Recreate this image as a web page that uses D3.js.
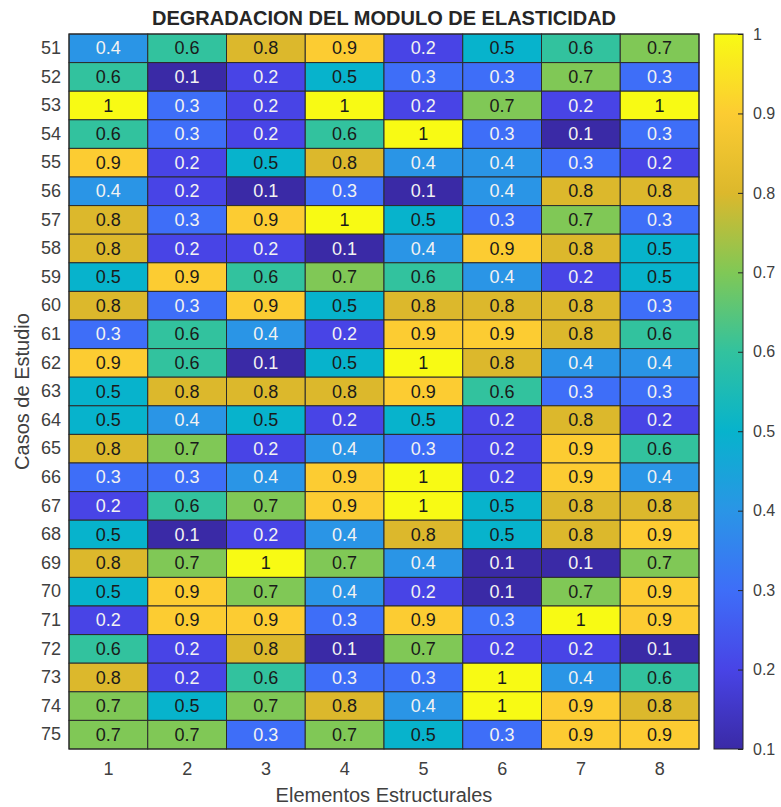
<!DOCTYPE html>
<html>
<head>
<meta charset="utf-8">
<script src="https://cdn.jsdelivr.net/npm/d3@7"></script>
<style>
  html, body { margin: 0; padding: 0; background: #ffffff; }
  svg { display: block; font-family: "Liberation Sans", Arial, sans-serif; }
</style>
</head>
<body>
<svg id="chart" width="781" height="807"></svg>
<script>
// ---- Data ----
const casos = ["51","52","53","54","55","56","57","58","59","60","61","62","63","64","65","66","67","68","69","70","71","72","73","74","75"];
const elementos = ["1","2","3","4","5","6","7","8"];
const valores = [
  [0.4,0.6,0.8,0.9,0.2,0.5,0.6,0.7],
  [0.6,0.1,0.2,0.5,0.3,0.3,0.7,0.3],
  [1,0.3,0.2,1,0.2,0.7,0.2,1],
  [0.6,0.3,0.2,0.6,1,0.3,0.1,0.3],
  [0.9,0.2,0.5,0.8,0.4,0.4,0.3,0.2],
  [0.4,0.2,0.1,0.3,0.1,0.4,0.8,0.8],
  [0.8,0.3,0.9,1,0.5,0.3,0.7,0.3],
  [0.8,0.2,0.2,0.1,0.4,0.9,0.8,0.5],
  [0.5,0.9,0.6,0.7,0.6,0.4,0.2,0.5],
  [0.8,0.3,0.9,0.5,0.8,0.8,0.8,0.3],
  [0.3,0.6,0.4,0.2,0.9,0.9,0.8,0.6],
  [0.9,0.6,0.1,0.5,1,0.8,0.4,0.4],
  [0.5,0.8,0.8,0.8,0.9,0.6,0.3,0.3],
  [0.5,0.4,0.5,0.2,0.5,0.2,0.8,0.2],
  [0.8,0.7,0.2,0.4,0.3,0.2,0.9,0.6],
  [0.3,0.3,0.4,0.9,1,0.2,0.9,0.4],
  [0.2,0.6,0.7,0.9,1,0.5,0.8,0.8],
  [0.5,0.1,0.2,0.4,0.8,0.5,0.8,0.9],
  [0.8,0.7,1,0.7,0.4,0.1,0.1,0.7],
  [0.5,0.9,0.7,0.4,0.2,0.1,0.7,0.9],
  [0.2,0.9,0.9,0.3,0.9,0.3,1,0.9],
  [0.6,0.2,0.8,0.1,0.7,0.2,0.2,0.1],
  [0.8,0.2,0.6,0.3,0.3,1,0.4,0.6],
  [0.7,0.5,0.7,0.8,0.4,1,0.9,0.8],
  [0.7,0.7,0.3,0.7,0.5,0.3,0.9,0.9]
];
const colorTicks = [0.1,0.2,0.3,0.4,0.5,0.6,0.7,0.8,0.9,1];
const paletteStops = ["#3a2aa6","#4844e6","#3e6ef8","#2a95e6","#07b3cc","#32c29e","#80c856","#dcb82c","#fccc32","#f8fa14"];

const titulo = "DEGRADACION DEL MODULO DE ELASTICIDAD";
const xLabel = "Elementos Estructurales";
const yLabel = "Casos de Estudio";

// ---- Layout ----
const svg = d3.select("#chart");
const plot = { left: 69, top: 34, right: 699, bottom: 749 };
const cb = { left: 714, right: 743 };
const textColor = "#404040";
const FONT = "Liberation Sans, Arial, sans-serif";

const x = d3.scaleBand().domain(elementos).range([plot.left, plot.right]).padding(0);
const y = d3.scaleBand().domain(casos).range([plot.top, plot.bottom]).padding(0);
const color = d3.scaleLinear().domain(colorTicks).range(paletteStops).interpolate(d3.interpolateRgb).clamp(true);

const cells = [];
valores.forEach((row, i) => row.forEach((v, j) => cells.push({ caso: casos[i], el: elementos[j], v })));

// cells
svg.append("g").selectAll("rect").data(cells).join("rect")
  .attr("x", d => x(d.el))
  .attr("y", d => y(d.caso))
  .attr("width", x.bandwidth())
  .attr("height", y.bandwidth())
  .attr("fill", d => color(d.v))
  .attr("stroke", "#2b2b2b")
  .attr("stroke-width", 1);

// cell labels
svg.append("g").selectAll("text").data(cells).join("text")
  .attr("x", d => x(d.el) + x.bandwidth() / 2)
  .attr("y", d => y(d.caso) + y.bandwidth() / 2)
  .attr("text-anchor", "middle")
  .attr("dominant-baseline", "central")
  .attr("font-size", 18)
  .attr("fill", d => d.v <= 0.4 ? "#f2f2f2" : "#1a1a1a")
  .text(d => d3.format("~g")(d.v));

// outer border
svg.append("rect")
  .attr("x", plot.left).attr("y", plot.top)
  .attr("width", plot.right - plot.left).attr("height", plot.bottom - plot.top)
  .attr("fill", "none").attr("stroke", "#262626").attr("stroke-width", 1);

// axes
const yAxis = d3.axisLeft(y).tickSize(0).tickPadding(8);
const gy = svg.append("g").attr("transform", `translate(${plot.left},0)`).call(yAxis);
gy.select(".domain").remove();
gy.selectAll("text").attr("font-size", 18).attr("fill", textColor).attr("font-family", FONT);

const xAxis = d3.axisBottom(x).tickSize(0).tickPadding(13);
const gx = svg.append("g").attr("transform", `translate(0,${plot.bottom})`).call(xAxis);
gx.select(".domain").remove();
gx.selectAll("text").attr("font-size", 18).attr("fill", textColor).attr("font-family", FONT);

// title and labels
svg.append("text")
  .attr("x", (plot.left + plot.right) / 2 + 0).attr("y", 25)
  .attr("text-anchor", "middle").attr("font-size", 20).attr("font-weight", "bold")
  .attr("fill", "#262626").text(titulo);

svg.append("text")
  .attr("x", (plot.left + plot.right) / 2).attr("y", 802)
  .attr("text-anchor", "middle").attr("font-size", 20)
  .attr("fill", textColor).text(xLabel);

svg.append("text")
  .attr("transform", `translate(29,${(plot.top + plot.bottom) / 2}) rotate(-90)`)
  .attr("text-anchor", "middle").attr("font-size", 20)
  .attr("fill", textColor).text(yLabel);

// colorbar
const cbScale = d3.scaleLinear().domain([0.1, 1]).range([plot.bottom, plot.top]);
const defs = svg.append("defs");
const grad = defs.append("linearGradient").attr("id", "cbgrad")
  .attr("x1", 0).attr("y1", 1).attr("x2", 0).attr("y2", 0);
colorTicks.forEach(v => {
  grad.append("stop").attr("offset", (v - 0.1) / 0.9).attr("stop-color", color(v));
});
svg.append("rect")
  .attr("x", cb.left).attr("y", plot.top)
  .attr("width", cb.right - cb.left).attr("height", plot.bottom - plot.top)
  .attr("fill", "url(#cbgrad)").attr("stroke", "#262626").attr("stroke-width", 1);

const cbAxis = d3.axisRight(cbScale).tickValues(colorTicks).tickSizeInner(-5).tickSizeOuter(0)
  .tickPadding(10).tickFormat(d3.format("~g"));
const gcb = svg.append("g").attr("transform", `translate(${cb.right},0)`).call(cbAxis);
gcb.select(".domain").remove();
gcb.selectAll(".tick line").attr("stroke", "#262626");
gcb.selectAll("text").attr("font-size", 16).attr("fill", textColor).attr("font-family", FONT);
</script>
</body>
</html>
